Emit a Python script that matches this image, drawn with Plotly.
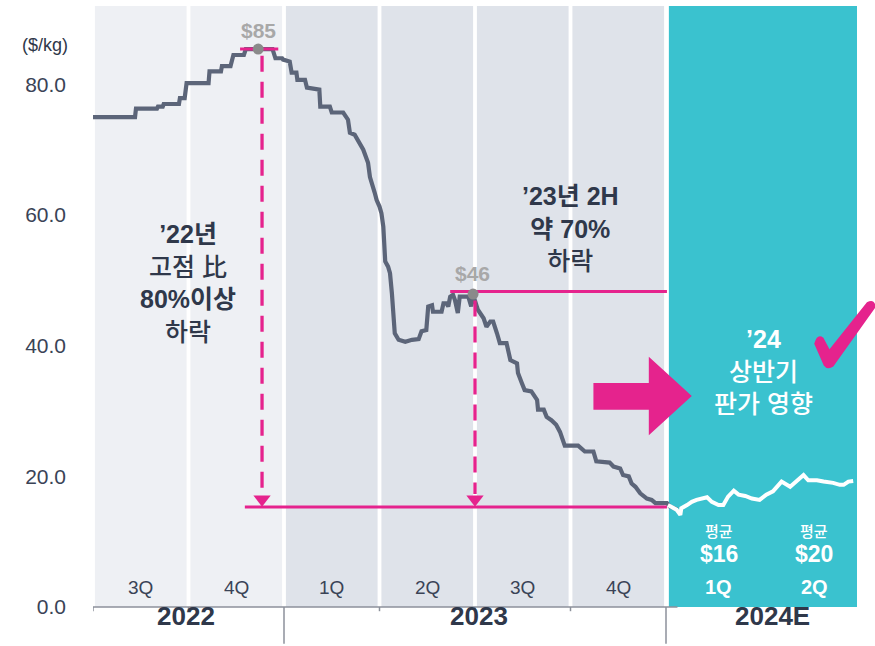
import plotly.graph_objects as go

# ---------------- data ----------------
quarter_labels = ["3Q", "4Q", "1Q", "2Q", "3Q", "4Q", "1Q", "2Q"]
year_labels = ["2022", "2023", "2024E"]
year_centers = [0.97, 4.04, 7.12]
y_ticks = [0, 20, 40, 60, 80]
y_tick_text = ["0.0", "20.0", "40.0", "60.0", "80.0"]

# historical price ($/kg), x in quarters since 2022-07
hist_q = [0.00, 0.44, 0.45, 0.67, 0.68, 0.73, 0.74, 0.90, 0.91, 0.96, 0.98, 1.21, 1.22, 1.34, 1.35,
          1.44, 1.47, 1.58, 1.60, 1.88, 1.91, 1.98, 1.99, 2.06, 2.08, 2.13, 2.14, 2.22, 2.24, 2.37,
          2.38, 2.48, 2.50, 2.62, 2.67, 2.69, 2.74, 2.83, 2.88, 2.90, 2.95, 2.97, 3.00, 3.02, 3.04,
          3.06, 3.09, 3.11, 3.13, 3.15, 3.16, 3.20, 3.27, 3.34, 3.41, 3.44, 3.49, 3.51, 3.55, 3.56,
          3.65, 3.67, 3.70, 3.72, 3.74, 3.77, 3.79, 3.82, 3.84, 3.93, 3.96, 3.98, 4.03, 4.09, 4.12,
          4.16, 4.19, 4.23, 4.26, 4.33, 4.37, 4.44, 4.45, 4.49, 4.52, 4.59, 4.65, 4.66, 4.72, 4.75,
          4.80, 4.85, 4.89, 4.94, 5.08, 5.15, 5.24, 5.27, 5.41, 5.45, 5.52, 5.55, 5.61, 5.64, 5.68,
          5.73, 5.80, 5.85, 5.89, 6.01, 6.04, 6.12]
hist_price = [75.0, 75.0, 76.3, 76.3, 76.6, 76.6, 77.0, 77.0, 77.9, 77.9, 80.2, 80.2, 82.0, 82.0, 82.8,
              82.8, 84.5, 84.5, 85.4, 85.4, 84.0, 84.0, 83.8, 83.5, 81.8, 81.8, 80.7, 80.7, 79.5, 79.2,
              76.6, 76.6, 75.7, 75.7, 74.6, 72.6, 72.3, 70.0, 68.0, 65.8, 63.4, 62.3, 61.3, 60.3, 58.2,
              52.9, 52.1, 51.1, 48.0, 42.7, 41.9, 40.9, 40.6, 40.9, 41.0, 42.2, 42.4, 46.0, 46.2, 45.2,
              45.2, 46.5, 46.5, 46.0, 47.5, 47.8, 47.0, 45.0, 47.5, 47.5, 46.0, 47.8, 45.5, 44.2, 42.9,
              43.7, 43.7, 41.9, 40.4, 40.4, 37.8, 37.3, 35.8, 34.3, 33.2, 33.0, 31.7, 30.2, 30.2, 29.1,
              28.6, 27.9, 26.8, 24.7, 24.7, 23.8, 23.8, 22.3, 22.1, 21.5, 21.2, 20.2, 20.0, 18.9, 18.4,
              17.4, 16.6, 16.4, 15.9, 15.9, 15.4, 14.9]

# 2024 estimate
fcst_q = [6.02, 6.11, 6.15, 6.16, 6.22, 6.27, 6.32, 6.39, 6.43, 6.48, 6.55, 6.60, 6.65, 6.71, 6.76,
          6.83, 6.90, 6.98, 7.05, 7.12, 7.18, 7.21, 7.30, 7.37, 7.44, 7.49, 7.58, 7.65, 7.75, 7.82,
          7.86, 7.91, 7.96]
fcst_price = [15.6, 14.9, 14.1, 15.1, 15.6, 16.1, 16.4, 16.6, 16.8, 16.1, 15.6, 15.6, 16.9, 17.8, 17.2,
              17.0, 16.6, 16.4, 17.2, 17.7, 18.7, 19.2, 18.4, 19.4, 20.2, 19.4, 19.4, 19.2, 19.0, 18.7,
              18.7, 19.2, 19.3]

peak_2022_q, peak_2022 = 1.73, 85.4
peak_2023_q, peak_2023 = 3.98, 47.9
trough = 15.3
avg_labels = ["$16", "$20"]
peak_labels = ["$85", "$46"]

# ---------------- styles ----------------
FONT = "Liberation Sans, Arial, Noto Sans CJK KR, sans-serif"
DARK = "#2f384a"
PINK = "#e5238d"
GRAY_LINE = "#5c6579"
TEAL = "#3ac2cf"
BAND_22 = "#eef0f4"
BAND_23 = "#dfe3ea"

fig = go.Figure()

# background bands
shapes = []
for k in range(6):
    shapes.append(dict(type="rect", xref="x", yref="paper", x0=k + 0.02, x1=k + 0.98, y0=0, y1=1,
                       fillcolor=BAND_22 if k < 2 else BAND_23, line_width=0, layer="below"))
shapes.append(dict(type="rect", xref="x", yref="paper", x0=6.03, x1=8, y0=0, y1=1,
                   fillcolor=TEAL, line_width=0, layer="below"))

# bottom axis line + ticks
shapes.append(dict(type="line", xref="x", yref="paper", x0=0, x1=6.12, y0=0, y1=0,
                   line=dict(color="#8c919b", width=1.5), layer="above"))
for k in range(7):
    long = k in (2, 6)
    shapes.append(dict(type="line", xref="x", yref="paper", x0=k, x1=k, y0=0,
                       y1=-0.061 if long else -0.007,
                       line=dict(color="#8c919b", width=1.5), layer="above"))

# big pink arrow
shapes.append(dict(type="path", xref="x", yref="y",
                   path="M 5.24,30.2 L 5.82,30.2 L 5.82,26.3 L 6.27,32.3 L 5.82,38.3 L 5.82,34.3 L 5.24,34.3 Z",
                   fillcolor=PINK, line_width=0, layer="above"))
# check mark
shapes.append(dict(type="path", xref="paper", yref="paper",
                   path="M 0.9440,0.4380 Q 0.9480,0.4560 0.9560,0.4480 L 0.9640,0.4290 "
                        "L 1.0130,0.5070 Q 1.0230,0.5140 1.0245,0.4990 L 0.9690,0.4000 "
                        "Q 0.9610,0.3940 0.9565,0.4020 Z",
                   fillcolor=PINK, line_width=0, layer="above"))

# price lines
fig.add_trace(go.Scatter(x=hist_q, y=hist_price, mode="lines",
                         line=dict(color=GRAY_LINE, width=4.2), hoverinfo="skip"))
fig.add_trace(go.Scatter(x=fcst_q, y=fcst_price, mode="lines",
                         line=dict(color="white", width=4), hoverinfo="skip"))

# pink reference lines
fig.add_trace(go.Scatter(x=[1.59, 6.01], y=[trough, trough], mode="lines",
                         line=dict(color=PINK, width=3), hoverinfo="skip"))
fig.add_trace(go.Scatter(x=[1.54, 1.94], y=[peak_2022, peak_2022], mode="lines",
                         line=dict(color=PINK, width=3), hoverinfo="skip"))
fig.add_trace(go.Scatter(x=[3.74, 6.01], y=[peak_2023 + 0.4, peak_2023 + 0.4], mode="lines",
                         line=dict(color=PINK, width=3), hoverinfo="skip"))
for xq, top in [(peak_2022_q + 0.04, peak_2022 - 1.0), (peak_2023_q + 0.02, peak_2023 - 1.0)]:
    fig.add_trace(go.Scatter(x=[xq, xq], y=[top, trough + 2.0], mode="lines",
                             line=dict(color=PINK, width=3.3, dash="16px,10px"), hoverinfo="skip"))
    fig.add_trace(go.Scatter(x=[xq], y=[trough + 1.2], mode="markers",
                             marker=dict(symbol="triangle-down", size=15, color=PINK), hoverinfo="skip"))

# peak markers
fig.add_trace(go.Scatter(x=[peak_2022_q, peak_2023_q], y=[peak_2022, peak_2023], mode="markers",
                         marker=dict(size=11, color="#8a8a8a"), hoverinfo="skip"))

ann = []
# peak labels
ann.append(dict(x=peak_2022_q, y=peak_2022 + 2.8, text=f"<b>{peak_labels[0]}</b>", showarrow=False,
                font=dict(size=21, color="#a8a8a8")))
ann.append(dict(x=peak_2023_q - 0.01, y=peak_2023 + 3.2, text=f"<b>{peak_labels[1]}</b>", showarrow=False,
                font=dict(size=21, color="#a8a8a8")))

# quarter labels
for k, lab in enumerate(quarter_labels):
    if k < 6:
        ann.append(dict(x=k + 0.5, y=3.0, text=lab, showarrow=False,
                        font=dict(size=19, color="#3a4356")))
    else:
        xc = k + 0.55
        ann.append(dict(x=xc, y=3.0, text=f"<b>{lab}</b>", showarrow=False,
                        font=dict(size=20, color="white")))
        ann.append(dict(x=xc, y=11.5, text="평균", showarrow=False,
                        font=dict(size=15, color="white", weight=500)))
        ann.append(dict(x=xc, y=8.1, text=f"<b>{avg_labels[k - 6]}</b>", showarrow=False,
                        font=dict(size=23, color="white")))

# year labels
for xc, lab in zip(year_centers, year_labels):
    ann.append(dict(x=xc, y=-0.043, yref="paper", text=f"<b>{lab}</b>", showarrow=False,
                    font=dict(size=26, color=DARK)))

# unit label (paper coords relative to plot area)
ann.append(dict(x=(45 - 93) / 764, y=(607 - 45) / 601, xref="paper", yref="paper", text="($/kg)",
                showarrow=False, font=dict(size=18, color=DARK), xanchor="center", yanchor="middle"))

# commentary
ann.append(dict(x=0.995, y=49.6, text="<b>’22년</b><br>고점 比<br><b>80%이상</b><br>하락",
                showarrow=False, font=dict(size=25, color=DARK, weight=500)))
ann.append(dict(x=5.0, y=57.9, text="<b>’23년 2H</b><br><b>약 70%</b><br>하락",
                showarrow=False, font=dict(size=25, color=DARK, weight=500)))
ann.append(dict(x=7.02, y=36.0, text="<b>’24</b><br>상반기<br>판가 영향",
                showarrow=False, font=dict(size=25, color="white", weight=500)))

fig.update_layout(
    width=875, height=646,
    margin=dict(l=93, r=18, t=6, b=39),
    plot_bgcolor="white", paper_bgcolor="white",
    showlegend=False,
    font=dict(family=FONT, color=DARK),
    shapes=shapes,
    annotations=ann,
    xaxis=dict(range=[0, 8], showgrid=False, zeroline=False, showticklabels=False,
               showline=False, ticks="", fixedrange=True),
    yaxis=dict(range=[0, 92], tickvals=y_ticks, ticktext=y_tick_text, showgrid=False,
               zeroline=False, showline=False, ticks="", ticklabelstandoff=26,
               tickfont=dict(size=21, color="#3a4356"), fixedrange=True),
)

fig.write_html("out.html", config={"displayModeBar": False},
               post_script="document.body.style.margin='0';document.body.style.overflow='hidden';")
